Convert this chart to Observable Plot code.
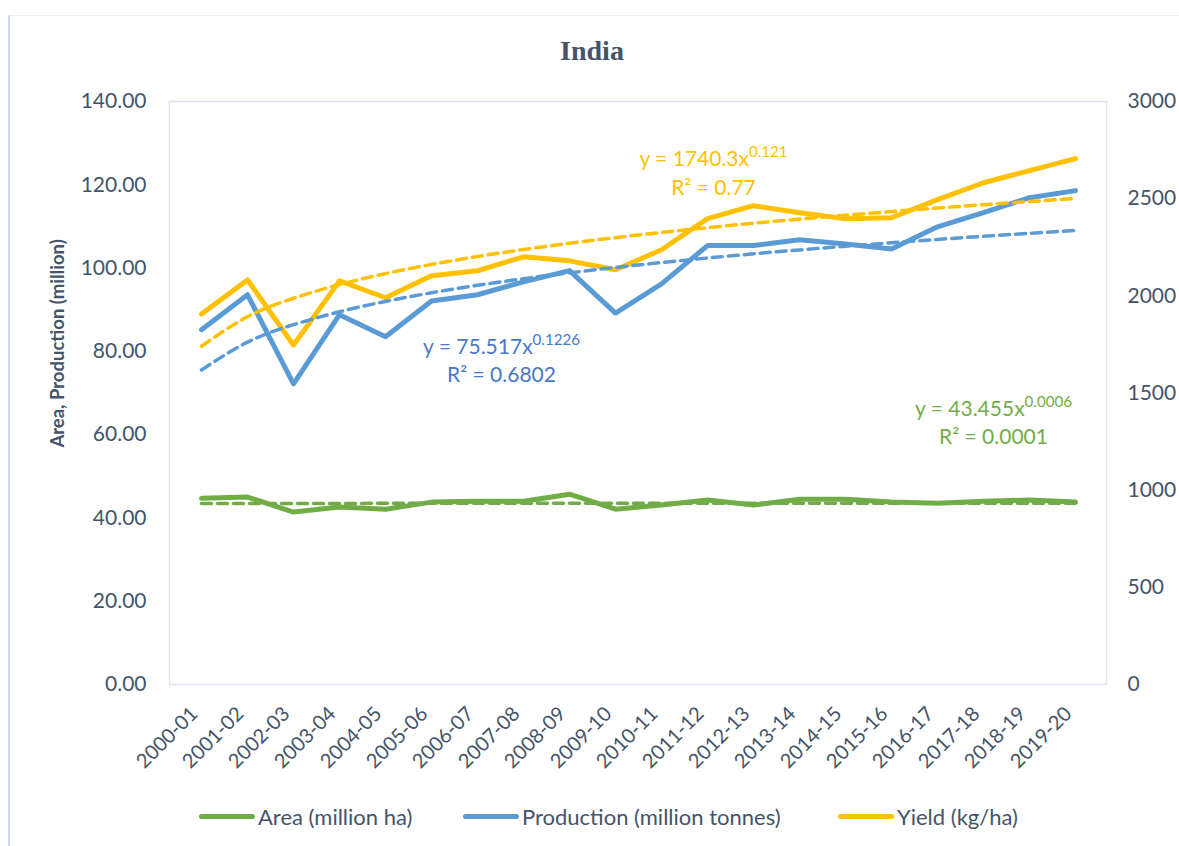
<!DOCTYPE html>
<html><head><meta charset="utf-8">
<script src="https://cdn.jsdelivr.net/npm/d3@7"></script>
<script src="https://cdn.jsdelivr.net/npm/@observablehq/plot@0.6"></script>
<style>
html,body{margin:0;padding:0;background:#fff;}
#wrap{position:relative;width:1179px;height:846px;overflow:hidden;font-family:Lato,"Open Sans",sans-serif;color:#44546A;}
#frame{position:absolute;left:8px;top:15px;width:1200px;height:900px;border-left:2px solid #cdd6ef;border-top:1px solid #eef0f8;}
#title{position:absolute;left:0;top:35px;width:1184px;height:32px;line-height:32px;text-align:center;font:bold 28px "Liberation Serif","DejaVu Serif",serif;color:#44546A;}
#chart{position:absolute;left:0;top:90px;}
.item{position:absolute;top:804px;height:24px;display:flex;align-items:center;font-size:22px;color:#44546A;white-space:nowrap;}
.sw{width:56px;height:5px;border-radius:3px;margin-right:3px;}
</style>
</head><body>
<div id="wrap">
  <div id="frame"></div>
  <div id="title">India</div>
  <div id="chart"></div>
  <div id="legend"></div>
</div>
<script>
const categories = ["2000-01","2001-02","2002-03","2003-04","2004-05","2005-06","2006-07","2007-08","2008-09","2009-10","2010-11","2011-12","2012-13","2013-14","2014-15","2015-16","2016-17","2017-18","2018-19","2019-20"];
const area = [44.7,45.0,41.4,42.6,42.1,43.8,44.0,44.0,45.7,42.1,43.1,44.3,43.1,44.5,44.5,43.8,43.5,44.0,44.3,43.8];
const production = [85.2,93.6,72.2,88.8,83.5,92.1,93.6,96.7,99.4,89.2,96.2,105.4,105.4,106.8,105.8,104.6,109.9,113.3,116.9,118.6];
const yieldKgHa = [1907,2082,1747,2077,1990,2103,2129,2201,2180,2134,2237,2397,2464,2428,2397,2402,2495,2582,2644,2706];
const seriesNames = ["Area (million ha)","Production (million tonnes)","Yield (kg/ha)"];
const seriesColors = ["#70AD47","#5B9BD5","#FFC000"];
const labelColors = ["#70AD47","#4878C8","#FFC000"];
const leftTicks = [0,20,40,60,80,100,120,140];
const rightTicks = [0,500,1000,1500,2000,2500,3000];
const trendA = [43.455, 75.517, 1740.3];
const trendB = [0.0006, 0.1226, 0.121];
const trendEq = ["y = 43.455x^0.0006","y = 75.517x^0.1226","y = 1740.3x^0.121"];
const trendR2 = ["R² = 0.0001","R² = 0.6802","R² = 0.77"];
const yTitle = "Area, Production (million)";

const LEFT_MAX = 140, RIGHT_MAX = 3000, k = LEFT_MAX / RIGHT_MAX;
const seriesValues = [area, production, yieldKgHa];
const scaleOf = s => s === 2 ? k : 1;

const rows = [];
const trendRows = [];
seriesValues.forEach((vals, s) => {
  vals.forEach((v, i) => {
    rows.push({series: seriesNames[s], cat: categories[i], value: v * scaleOf(s)});
    trendRows.push({series: seriesNames[s], cat: categories[i], value: trendA[s] * Math.pow(i + 1, trendB[s]) * scaleOf(s)});
  });
});

// label placement (layout, not data)
const labelPos = [
  {cat: "2017-18", v: 63.3, dx: 10},
  {cat: "2006-07", v: 78.2, dx: 24},
  {cat: "2011-12", v: 123.2, dx: 6}
];
const labelMarks = labelPos.map((p, s) =>
  Plot.text([{cat: p.cat, v: p.v, text: trendEq[s] + "\n" + trendR2[s]}],
    {x: "cat", y: "v", dx: p.dx, text: "text", fill: labelColors[s], fontSize: 21, lineHeight: 1.35, textAnchor: "middle"}));

const chart = Plot.plot({
  width: 1179,
  height: 700,
  marginTop: 11,
  marginBottom: 106,
  marginLeft: 169,
  marginRight: 73,
  style: {fontFamily: "Lato, 'Open Sans', sans-serif", fontSize: "21px", color: "#44546A", background: "transparent", overflow: "visible"},
  x: {type: "point", domain: categories, padding: 0.5},
  y: {domain: [0, LEFT_MAX]},
  color: {domain: seriesNames, range: seriesColors},
  marks: [
    Plot.frame({stroke: "#dde3f3", strokeWidth: 1.5}),
    Plot.axisY({ticks: leftTicks, tickFormat: d3.format(".2f"), tickSize: 0, tickPadding: 23, label: null, fontSize: 21}),
    Plot.axisY({anchor: "right", ticks: rightTicks.map(v => v * k), tickFormat: d => String(Math.round(d / k)), tickSize: 0, tickPadding: 21, label: null, fontSize: 21}),
    Plot.axisX({tickRotate: -45, tickSize: 0, tickPadding: 26, dx: -7, label: null, fontSize: 20}),
    Plot.text([{t: yTitle, v: 81.9}], {text: "t", y: "v", frameAnchor: "left", textAnchor: "middle", dx: -111, rotate: -90, fontWeight: "bold", fontSize: 18.5, fill: "#44546A"}),
    Plot.line(rows, {x: "cat", y: "value", z: "series", stroke: "series", strokeWidth: 5, strokeLinejoin: "round", strokeLinecap: "round"}),
    Plot.line(trendRows, {x: "cat", y: "value", z: "series", stroke: "series", strokeWidth: 3.5, strokeDasharray: "10,6", curve: "natural"}),
    ...labelMarks
  ]
});

document.getElementById("chart").appendChild(chart);

// superscripts
d3.select(chart).selectAll("tspan, text").each(function() {
  if (this.children.length) return;
  const t = this.textContent;
  if (t.includes("^")) {
    const [base, exp] = t.split("^");
    this.textContent = base;
    d3.select(this).append("tspan").attr("baseline-shift", "super").attr("font-size", "72%").text(exp);
  }
});

const legend = document.getElementById("legend");
const legendLeft = [199, 463, 838];
seriesNames.forEach((n, s) => {
  const it = document.createElement("div");
  it.className = "item";
  it.style.left = legendLeft[s] + "px";
  it.innerHTML = `<span class="sw" style="background:${seriesColors[s]}"></span><span>${n}</span>`;
  legend.appendChild(it);
});
</script>
</body></html>
